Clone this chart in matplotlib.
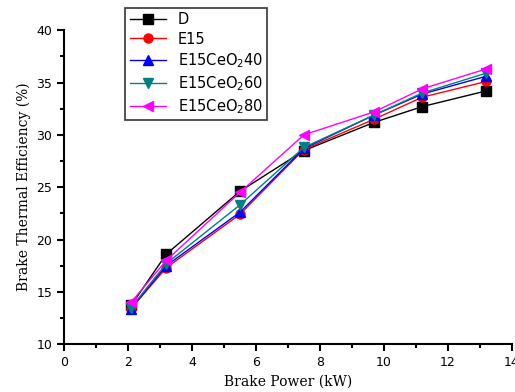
import matplotlib.pyplot as plt
from matplotlib.ticker import MultipleLocator

# brake power (kW)
bp = [2.1, 3.2, 5.5, 7.5, 9.7, 11.2, 13.2]

# brake thermal efficiency (%)
bte_d = [13.7, 18.6, 24.6, 28.5, 31.2, 32.7, 34.2]
bte_e15 = [13.4, 17.3, 22.4, 28.6, 31.5, 33.6, 35.1]
bte_ce40 = [13.4, 17.5, 22.6, 28.7, 31.9, 33.9, 35.6]
bte_ce60 = [13.5, 17.7, 23.3, 28.8, 31.9, 34.0, 35.9]
bte_ce80 = [14.0, 18.0, 24.5, 30.0, 32.2, 34.4, 36.3]

labels = ['D', 'E15', 'E15CeO$_2$40', 'E15CeO$_2$60', 'E15CeO$_2$80']

fig = plt.figure(figsize=(5.15, 3.92), dpi=100)
ax = fig.add_axes([0.124, 0.122, 0.870, 0.801])

ax.plot(bp, bte_d, color='black', marker='s', ms=6.5, lw=1, label=labels[0])
ax.plot(bp, bte_e15, color='red', marker='o', ms=6.5, lw=1, label=labels[1])
ax.plot(bp, bte_ce40, color='blue', marker='^', ms=6.5, lw=1, label=labels[2])
ax.plot(bp, bte_ce60, color='#008080', marker='v', ms=6.5, lw=1, label=labels[3])
ax.plot(bp, bte_ce80, color='magenta', marker='<', ms=7.5, lw=1, label=labels[4])

ax.set_xlim(0, 14)
ax.set_ylim(10, 40)
ax.xaxis.set_major_locator(MultipleLocator(2))
ax.xaxis.set_minor_locator(MultipleLocator(1))
ax.yaxis.set_major_locator(MultipleLocator(5))
ax.yaxis.set_minor_locator(MultipleLocator(2.5))
ax.tick_params(which='both', direction='out', width=1.5, labelsize=9)
ax.tick_params(which='major', length=5)
ax.tick_params(which='minor', length=3)

ax.spines['top'].set_visible(False)
ax.spines['right'].set_visible(False)
ax.spines['left'].set_linewidth(1.5)
ax.spines['bottom'].set_linewidth(1.5)

ax.set_xlabel('Brake Power (kW)', family='serif', fontsize=10)
ax.set_ylabel('Brake Thermal Efficiency (%)', family='serif', fontsize=10)

leg = ax.legend(loc='upper left', bbox_to_anchor=(0.243, 0.98), bbox_transform=fig.transFigure,
                fancybox=False, edgecolor='black', fontsize=10.5, handlelength=2.5,
                borderaxespad=0, labelspacing=0.3, borderpad=0.3)
leg.get_frame().set_linewidth(1.2)

fig.savefig('out.png', dpi=100)
